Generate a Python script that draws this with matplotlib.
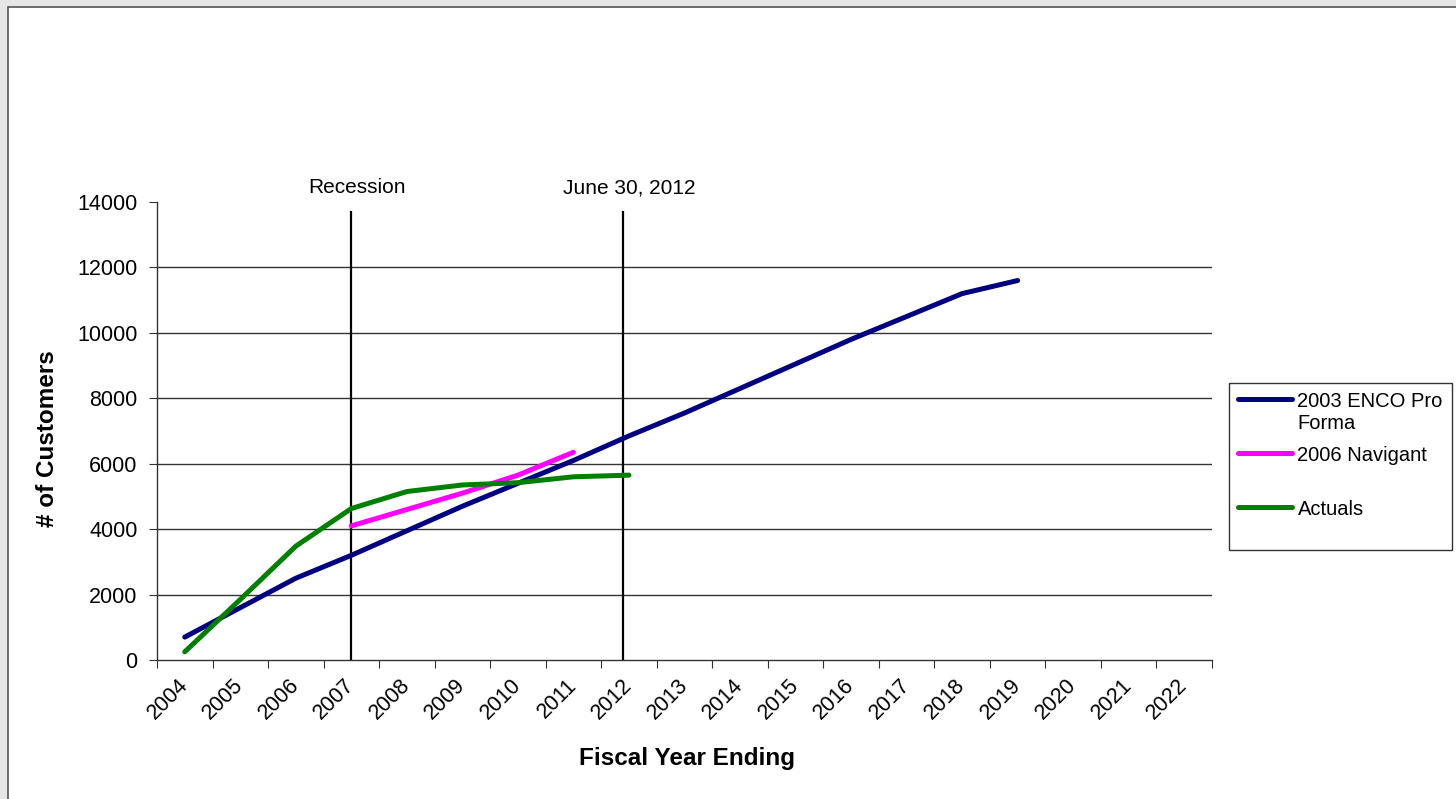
import matplotlib.pyplot as plt
from matplotlib.patches import Rectangle

plt.rcParams['font.family'] = ['Liberation Sans', 'DejaVu Sans']

# fiscal years on the category axis
years = [str(y) for y in range(2004, 2023)]

# series values (# of customers)
enco_years = years[0:16]
enco = [700, 1600, 2500, 3200, 3950, 4700, 5400, 6100, 6850,
        7550, 8300, 9050, 9800, 10500, 11200, 11600]
navigant_years = years[3:8]
navigant = [4100, 4600, 5100, 5650, 6350]
actual_years = years[0:9]
actuals = [250, 1850, 3480, 4630, 5150, 5350, 5420, 5600, 5650]

# event markers
events = ["Recession", "June 30, 2012"]
event_pos = [3.0, 7.9]

fig = plt.figure(figsize=(14.56, 7.99), dpi=100)
fig.patch.set_facecolor('#e6e6e6')
fig.patches.append(Rectangle((8 / 1456, -0.01), 1.1, 1 - 7 / 799 + 0.01,
                             transform=fig.transFigure, facecolor='white',
                             edgecolor='#555555', linewidth=1.2, zorder=-5))

ax = fig.add_axes([157 / 1456, 1 - 660 / 799, 1055 / 1456, 458 / 799])
ax.set_facecolor('none')

idx = {y: i for i, y in enumerate(years)}
ax.plot([idx[y] for y in enco_years], enco, color='#000080', lw=3.6,
        solid_capstyle='round', solid_joinstyle='round', label='2003 ENCO Pro\nForma', zorder=4)
# trailing newline keeps every legend entry two lines tall, like Excel does
ax.plot([idx[y] for y in navigant_years], navigant, color='#ff00ff', lw=3.6,
        solid_capstyle='round', solid_joinstyle='round', label='2006 Navigant\n', zorder=4)
ax.plot([idx[y] for y in actual_years], actuals, color='#008000', lw=3.6,
        solid_capstyle='round', solid_joinstyle='round', label='Actuals\n', zorder=5)

for name, x in zip(events, event_pos):
    ax.plot([x, x], [0, 13700], color='black', lw=1.6, zorder=3)
    ax.text(x + 0.1, 14430, name, ha='center', va='center', fontsize=15)

ax.set_xlim(-0.5, len(years) - 0.5)
ax.set_ylim(0, 14000)

# grid and axes
ax.set_yticks(range(0, 14001, 2000))
for v in range(2000, 14000, 2000):
    ax.axhline(v, color='#333333', lw=1.0, zorder=1)
for s in ['top', 'right']:
    ax.spines[s].set_visible(False)
for s in ['left', 'bottom']:
    ax.spines[s].set_color('#333333')
    ax.spines[s].set_linewidth(1.0)

ax.set_xticks([i - 0.5 for i in range(len(years) + 1)])
ax.set_xticklabels([])
ax.set_xticks(range(len(years)), minor=True)
ax.set_xticklabels(years, minor=True, rotation=45, ha='right', va='center',
                   rotation_mode='anchor', fontsize=15.5)
ax.tick_params(axis='x', which='major', length=6, direction='out', color='#333333')
ax.tick_params(axis='x', which='minor', length=0, pad=16)
ax.tick_params(axis='y', length=6, direction='out', pad=8, labelsize=15.5, color='#333333')

ax.set_xlabel('Fiscal Year Ending', fontsize=17.5, fontweight='bold', va='center')
ax.xaxis.set_label_coords(0.502, -0.214)
ax.set_ylabel('# of Customers', fontsize=17.5, fontweight='bold', va='center')
ax.yaxis.set_label_coords(-0.104, 0.4825)

leg = ax.legend(loc='upper left', bbox_to_anchor=(1229 / 1456, 1 - 383 / 799),
                bbox_transform=fig.transFigure, frameon=True, fancybox=False,
                fontsize=14.5, handlelength=2.7, handletextpad=0.25,
                labelspacing=0.65, borderpad=0.45, borderaxespad=0)
leg.get_frame().set_edgecolor('black')
leg.get_frame().set_linewidth(1.0)
# put each legend line beside the first line of its label
for col in leg._legend_handle_box.get_children():
    for row in col.get_children():
        row.align = 'top'

fig.savefig('out.png', dpi=100, facecolor=fig.get_facecolor())
